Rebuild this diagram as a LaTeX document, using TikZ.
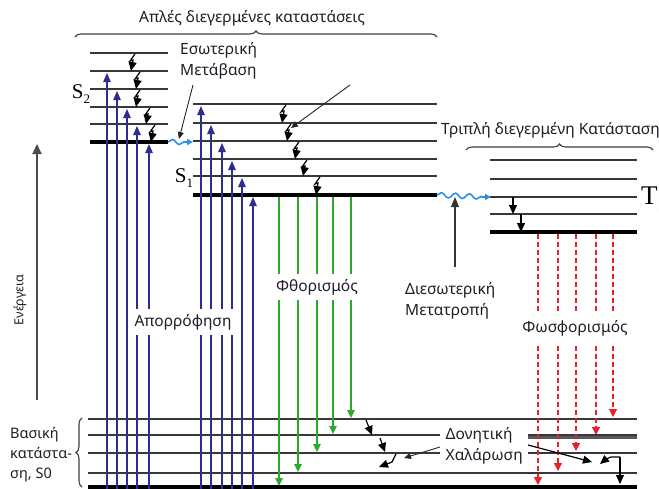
\documentclass[tikz,border=0pt]{standalone}
\usepackage{fontspec}
\setmainfont{Noto Sans}
\newfontfamily\lserif{Liberation Serif}
\usetikzlibrary{arrows.meta,decorations.pathmorphing,decorations.pathreplacing,calc}
\definecolor{navy}{HTML}{2E2E8F}
\definecolor{fgreen}{HTML}{2CA82C}
\definecolor{pred}{HTML}{E8202A}
\definecolor{wblue}{HTML}{2F8FE6}
\definecolor{txt}{HTML}{1E1E28}
\tikzset{
  lvl/.style={draw=black!78, line width=1.3pt},
  lvlthick/.style={draw=black, line width=3.6pt},
  absorb/.style={draw=navy, line width=1.2pt, -{Triangle[width=7.5pt,length=9pt]}},
  fluor/.style={draw=fgreen, line width=1.2pt, -{Triangle[width=7.5pt,length=8pt]}},
  phos/.style={draw=pred, line width=1.3pt, dash pattern=on 5pt off 3pt, -{Triangle[width=8pt,length=8pt]}},
  vib/.style={draw=black, line width=1.2pt, -{Triangle[width=8pt,length=9pt]}},
  ptr/.style={draw=black!85, line width=0.9pt, -{Triangle[width=6pt,length=7pt]}},
  wav/.style={draw=wblue, line width=1.6pt, decorate,
     decoration={snake, amplitude=2.5pt, segment length=14pt, post length=5pt}},
  wavtip/.style={draw=wblue, line width=1.6pt, -{Triangle[width=6pt,length=6pt]}},
  lbl/.style={font=\fontsize{15.5}{21}\selectfont, text=txt, inner sep=1pt},
  slbl/.style={font=\lserif\fontsize{21}{21}\selectfont, text=black, inner sep=0pt},
  brc/.style={draw=black!75, line width=1.1pt, decorate, decoration={brace, amplitude=6pt}}
}
\newcommand\vibz[3]{\draw[vib] (#1+4,#2+1) -- (#1-1,#2+8) -- (#1+2,#2+7) -- (#1,#3);}
\begin{document}
\begin{tikzpicture}[x=1pt,y=-1pt]
\useasboundingbox (0,0) rectangle (659,488);
\fill[white] (0,0) rectangle (659,488);

% ---- levels ----
\foreach \y in {53,71,89,107,124} \draw[lvl] (90,\y) -- (168,\y);
\draw[lvlthick] (90,142) -- (168,142);
\foreach \y in {104,123,141,159,176} \draw[lvl] (193,\y) -- (437,\y);
\draw[lvlthick] (193,195) -- (437,195);
\foreach \y in {160,179,197,214} \draw[lvl] (490,\y) -- (637,\y);
\draw[lvlthick] (490,232) -- (637,232);
\foreach \y in {419,435,453,473} \draw[lvl] (88,\y) -- (637,\y);
\draw[draw=black!65, line width=3pt] (528,437) -- (637,437);
\draw[lvlthick] (88,487) -- (637,487);

% ---- absorption ----
\foreach \x/\y in {107/71,117/89,127/107,137/124,149/142,201/104,211/123,222/141,232/159,242/176,253/195}
  \draw[absorb] (\x,490) -- (\x,\y+2);

% ---- fluorescence ----
\foreach \x/\y in {279/487,298/473,317/453,333/435,351/419}
  \draw[fluor] (\x,197) -- (\x,\y-1);

% ---- phosphorescence ----
\foreach \x/\y in {538/487,558/473,576/453,596/437,613/419}
  \draw[phos] (\x,234) -- (\x,\y-2);

% ---- vibrational relaxation ----
\vibz{131}{53}{71}
\vibz{136}{71}{89}
\vibz{136}{89}{107}
\vibz{146}{107}{124}
\vibz{151}{124}{142}
\vibz{282}{104}{123}
\vibz{287}{123}{141}
\vibz{295}{141}{159}
\vibz{303}{159}{176}
\vibz{316}{176}{195}
\draw[vib] (513,197) -- (513,214);
\draw[vib] (521,214) -- (521,232);
\draw[vib] (366,420) -- (372,435);
\draw[vib] (380,438) -- (385,452);
\draw[vib] (396,454) -- (392,462) -- (379,467);
\draw[vib] (528,445) -- (592,462);
\draw[vib] (620,457) -- (611,457) -- (606,459) -- (600,464);
\draw[vib] (620,457) -- (620,484);

% ---- intersystem / internal conversion ----
\draw[wav] (168,142) -- (190,142);
\draw[wavtip] (186,142) -- (193,142);
\draw[wav] (437,195) -- (487,197);
\draw[wavtip] (482,197) -- (491,197);

% ---- energy axis ----
\draw[draw=black!70, line width=2pt, -{Triangle[width=9pt,length=10pt]}] (37,400) -- (37,144);

% ---- braces ----
\draw[brc] (75,37) -- (437,37);
\draw[brc] (466,150) -- (653,150);
\draw[brc] (82,487) -- (82,418);

% ---- labels ----
\node[lbl, font=\fontsize{15.5}{21}\selectfont] (title) at (252,18) {Απλές διεγερμένες καταστάσεις};
\node[lbl, align=left, anchor=west] (ic) at (179,61) {Εσωτερική\\Μετάβαση};
\node[lbl, anchor=west] (trip) at (440,130) {Τριπλή διεγερμένη Κατάσταση};
\node[lbl, fill=white, inner xsep=3pt, inner ysep=5pt] (fl) at (317,287) {Φθορισμός};
\node[lbl, fill=white, inner xsep=3pt, inner ysep=5pt] (ab) at (183,322) {Απορρόφηση};
\node[lbl, fill=white, inner xsep=3pt, inner ysep=8pt] (ph) at (575,328) {Φωσφορισμός};
\node[lbl, rotate=90, font=\fontsize{12.5}{15}\selectfont] (en) at (20,300) {Ενέργεια};
\node[lbl, align=left, anchor=west] (isc) at (404,301) {Διεσωτερική\\Μετατροπή};
\node[lbl, align=left, fill=white, anchor=west, minimum width=88pt, minimum height=34pt, inner xsep=2pt] (vr) at (440,446) {Δονητική\\Χαλάρωση};
\node[lbl, align=left, anchor=west, font=\fontsize{14.5}{20}\selectfont] (gs) at (9,455) {Βασική\\κατάστα-\\ση, S0};
\node[slbl] (s2) at (81,94) {S\raisebox{-5pt}{\fontsize{13}{13}\selectfont 2}};
\node[slbl] (s1) at (184,178) {S\raisebox{-5pt}{\fontsize{13}{13}\selectfont 1}};
\node[slbl, font=\lserif\fontsize{27}{27}\selectfont, anchor=west] (t1) at (641,199) {T\raisebox{-6pt}{\fontsize{16}{16}\selectfont 1}};

% ---- pointers ----
\coordinate (icend) at (179,139);
\coordinate (s1end) at (291,128);
\coordinate (iscend) at (455,197);
\draw[ptr] (193,85) -- (icend);
\draw[ptr] (350,85) -- (s1end);
\draw[draw=black!80, line width=1.1pt, -{Triangle[width=8pt,length=10pt]}] (455,267) -- (iscend);
\draw[ptr] (vr.west |- 0,447) -- (404,458);
\end{tikzpicture}
\end{document}
